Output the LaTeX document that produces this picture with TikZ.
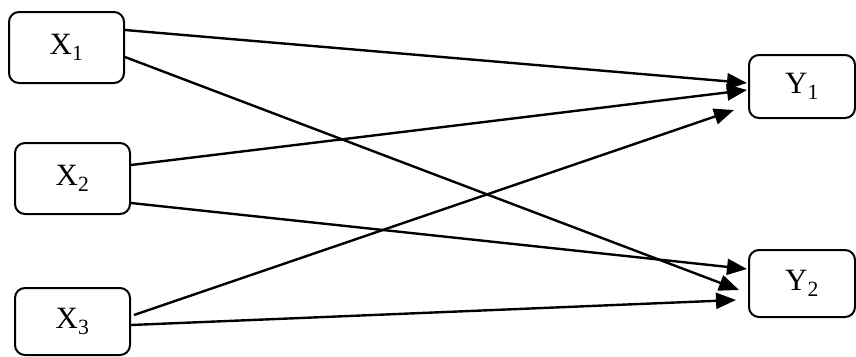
\documentclass[tikz,border=0pt]{standalone}
\usepackage{fontspec}
\setmainfont{Liberation Serif}
\usepackage{tikz}
\usetikzlibrary{arrows.meta}

\begin{document}
\begin{tikzpicture}[
  x=1pt,y=-1pt,
  var/.style={draw=black,line width=2pt,rounded corners=10pt,inner sep=0pt,
              minimum width=115pt,minimum height=71pt,
              font=\fontsize{31}{36}\selectfont},
  outv/.style={var,minimum width=106pt,minimum height=65pt},
  arr/.style={-{Triangle[length=20pt,width=16pt]},line width=2.4pt,black}
]
  \useasboundingbox (0,0) rectangle (856,356);
  % variables
  \node[var]  (x1) at (66.5,47.5)  {X\textsubscript{1}};
  \node[var]  (x2) at (72.5,178.5) {X\textsubscript{2}};
  \node[var,minimum height=67pt] (x3) at (72.5,321.5) {X\textsubscript{3}};
  \node[outv,minimum height=63pt] (y1) at (802,86.5)  {Y\textsubscript{1}};
  \node[outv,minimum height=67pt] (y2) at (802,283.5) {Y\textsubscript{2}};
  % paths
  \draw[arr] ([yshift=17.5pt]x1.east) -- ([xshift=-1pt,yshift=3.5pt]y1.west);
  \draw[arr] ([yshift=-9.5pt]x1.east) -- ([xshift=-9pt,yshift=-6.5pt]y2.west);
  \draw[arr] ([yshift=13.5pt]x2.east) -- ([xshift=-1pt,yshift=-3.5pt]y1.west);
  \draw[arr] ([yshift=-24.5pt]x2.east) -- ([xshift=-1pt,yshift=14.5pt]y2.west);
  \draw[arr] ([xshift=3pt,yshift=6.5pt]x3.east) -- ([xshift=-14pt,yshift=-23.5pt]y1.west);
  \draw[arr] ([yshift=-3.5pt]x3.east) -- ([xshift=-12pt,yshift=-16.5pt]y2.west);
\end{tikzpicture}
\end{document}
